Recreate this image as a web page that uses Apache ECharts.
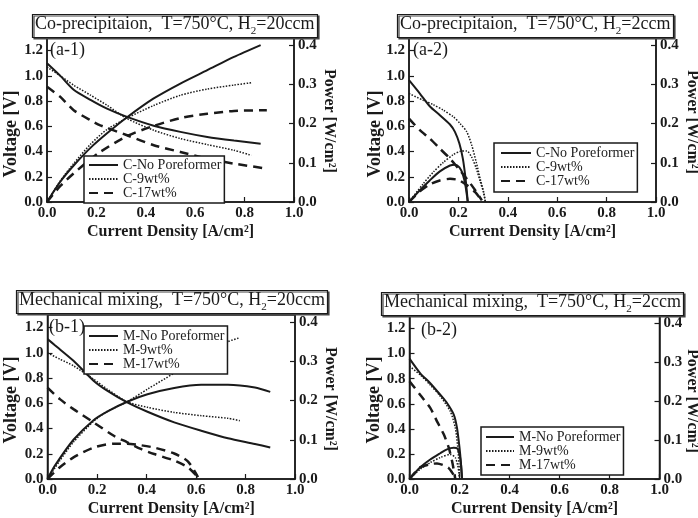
<!DOCTYPE html>
<html><head><meta charset="utf-8">
<script src="https://cdn.jsdelivr.net/npm/echarts/dist/echarts.min.js"></script>
<style>html,body{margin:0;padding:0;background:#fff}#c{width:698px;height:518px}</style>
</head><body><div id="c"></div>
<script>
// ---------- axis ranges / ticks ----------
const xRange = [0, 1.0], xStep = 0.2;
const voltRange = [0, 1.3], voltStep = 0.2;
const powerRange = [0, 0.418], powerStep = 0.1;

// ---------- panel titles ----------
const titleA1 = ['Co-precipitaion,  T=750°C, H', '2', '=20ccm'];
const titleA2 = ['Co-precipitaion,  T=750°C, H', '2', '=2ccm'];
const titleB1 = ['Mechanical mixing,  T=750°C, H', '2', '=20ccm'];
const titleB2 = ['Mechanical mixing,  T=750°C, H', '2', '=2ccm'];
const panelTags = ['(a-1)', '(a-2)', '(b-1)', '(b-2)'];
const namesC = ['C-No Poreformer', 'C-9wt%', 'C-17wt%'];
const namesM = ['M-No Poreformer', 'M-9wt%', 'M-17wt%'];

// ---------- (a-1) Co-precipitation, 20 ccm ----------
const a1_no_I = [0, 0.054, 0.108, 0.176, 0.243, 0.324, 0.432, 0.54, 0.649, 0.757, 0.865];
const a1_no_V = [1.10, 1.00, 0.89, 0.81, 0.74, 0.675, 0.605, 0.556, 0.516, 0.487, 0.462];
const a1_no_P = [0, 0.052, 0.093, 0.138, 0.175, 0.216, 0.264, 0.302, 0.336, 0.37, 0.40];
const a1_9_I = [0, 0.054, 0.108, 0.176, 0.243, 0.324, 0.432, 0.54, 0.649, 0.757, 0.827];
const a1_9_V = [1.07, 1.0, 0.926, 0.847, 0.767, 0.661, 0.569, 0.503, 0.455, 0.41, 0.37];
const a1_9_P = [0, 0.054, 0.098, 0.147, 0.185, 0.214, 0.246, 0.272, 0.288, 0.298, 0.304];
const a1_17_I = [0, 0.054, 0.108, 0.176, 0.216, 0.324, 0.432, 0.54, 0.649, 0.757, 0.89];
const a1_17_V = [0.913, 0.833, 0.728, 0.648, 0.608, 0.529, 0.45, 0.397, 0.344, 0.304, 0.265];
const a1_17_P = [0, 0.041, 0.073, 0.109, 0.128, 0.168, 0.194, 0.214, 0.225, 0.232, 0.234];

// ---------- (a-2) Co-precipitation, 2 ccm ----------
const a2_no_I = [0, 0.044, 0.084, 0.125, 0.166, 0.186, 0.204, 0.218, 0.229, 0.238];
const a2_no_V = [0.966, 0.86, 0.759, 0.688, 0.614, 0.556, 0.463, 0.344, 0.185, 0];
const a2_no_P = [0, 0.03, 0.055, 0.078, 0.093, 0.095, 0.088, 0.07, 0.04, 0];
const a2_9_I = [0, 0.057, 0.098, 0.139, 0.18, 0.207, 0.234, 0.254, 0.272, 0.288, 0.302, 0.309];
const a2_9_V = [0.86, 0.807, 0.772, 0.728, 0.675, 0.622, 0.556, 0.45, 0.317, 0.185, 0.08, 0];
const a2_9_P = [0, 0.046, 0.076, 0.101, 0.121, 0.129, 0.13, 0.114, 0.086, 0.053, 0.024, 0];
const a2_17_I = [0, 0.044, 0.084, 0.125, 0.166, 0.2, 0.234, 0.268, 0.295];
const a2_17_V = [0.661, 0.569, 0.503, 0.423, 0.344, 0.265, 0.185, 0.093, 0.013];
const a2_17_P = [0, 0.027, 0.045, 0.055, 0.059, 0.056, 0.043, 0.025, 0.003];

// ---------- (b-1) Mechanical mixing, 20 ccm ----------
const b1_no_I = [0, 0.03, 0.105, 0.186, 0.241, 0.322, 0.404, 0.512, 0.621, 0.729, 0.838, 0.90];
const b1_no_V = [1.11, 1.06, 0.937, 0.779, 0.70, 0.607, 0.533, 0.449, 0.383, 0.323, 0.278, 0.25];
const b1_no_P = [0, 0.034, 0.100, 0.150, 0.172, 0.197, 0.216, 0.232, 0.240, 0.240, 0.233, 0.222];
const b1_9_I = [0, 0.05, 0.105, 0.186, 0.241, 0.322, 0.404, 0.512, 0.621, 0.729, 0.777];
const b1_9_V = [1.0, 0.95, 0.897, 0.792, 0.713, 0.612, 0.568, 0.528, 0.502, 0.481, 0.462];
const b1_9_P = [0, 0.047, 0.094, 0.147, 0.172, 0.197, 0.229, 0.27, 0.312, 0.35, 0.36];
const b1_17_I = [0, 0.05, 0.105, 0.186, 0.268, 0.322, 0.377, 0.431, 0.512, 0.567, 0.608];
const b1_17_V = [0.725, 0.633, 0.554, 0.449, 0.343, 0.291, 0.238, 0.198, 0.146, 0.093, 0.014];
const b1_17_P = [0, 0.03, 0.055, 0.08, 0.09, 0.09, 0.086, 0.08, 0.065, 0.045, 0.005];

// ---------- (b-2) Mechanical mixing, 2 ccm ----------
const b2_no_I = [0, 0.043, 0.083, 0.123, 0.15, 0.177, 0.19, 0.2, 0.206, 0.21];
const b2_no_V = [0.96, 0.843, 0.764, 0.672, 0.606, 0.514, 0.408, 0.25, 0.119, 0];
const b2_no_P = [0, 0.03, 0.05, 0.066, 0.076, 0.08, 0.079, 0.063, 0.038, 0];
const b2_9_I = [0, 0.043, 0.083, 0.123, 0.163, 0.183, 0.193, 0.198, 0.2];
const b2_9_V = [0.9, 0.83, 0.75, 0.66, 0.54, 0.41, 0.25, 0.119, 0];
const b2_9_P = [0, 0.025, 0.042, 0.055, 0.063, 0.055, 0.034, 0.015, 0];
const b2_17_I = [0, 0.043, 0.083, 0.11, 0.137, 0.157, 0.17, 0.18, 0.183];
const b2_17_V = [0.78, 0.67, 0.567, 0.46, 0.356, 0.25, 0.145, 0.04, 0];
const b2_17_P = [0, 0.03, 0.038, 0.04, 0.035, 0.028, 0.017, 0.006, 0];

// ---------- styling / layout ----------
const FONT = 'Liberation Serif';
const INK = '#1a1a1a';
const lineStyles = {
  solid:  {color: INK, width: 2, type: 'solid'},
  dotted: {color: INK, width: 1.5, type: [1.5, 1.5]},
  dashed: {color: INK, width: 2.5, type: [9, 6]}
};
const styleOrder = ['solid', 'dotted', 'dashed'];

const panels = [
  {grid: {left: 47, top: 38, width: 247, height: 164}, title: titleA1, titlePos: [32, 13], tagPos: [50, 50],
   names: namesC, legend: {left: 84, top: 156, itemWidth: 29, padding: [2, 3, 3, 4]},
   voltPos: [11, 134], powerPos: [329, 121],
   sets: [[a1_no_I, a1_no_V, a1_no_P], [a1_9_I, a1_9_V, a1_9_P], [a1_17_I, a1_17_V, a1_17_P]]},
  {grid: {left: 409, top: 38, width: 247, height: 164}, title: titleA2, titlePos: [397, 13], tagPos: [413, 50],
   names: namesC, legend: {left: 494, top: 143, itemWidth: 30, padding: [3, 3, 4, 6]},
   voltPos: [375, 134], powerPos: [692, 122],
   sets: [[a2_no_I, a2_no_V, a2_no_P], [a2_9_I, a2_9_V, a2_9_P], [a2_17_I, a2_17_V, a2_17_P]]},
  {grid: {left: 47.5, top: 315, width: 247.5, height: 164}, title: titleB1, titlePos: [16, 289], tagPos: [49, 327],
   names: namesM, legend: {left: 84, top: 326, itemWidth: 29, padding: [3, 3, 3, 4]},
   voltPos: [11, 400], powerPos: [330, 399],
   sets: [[b1_no_I, b1_no_V, b1_no_P], [b1_9_I, b1_9_V, b1_9_P], [b1_17_I, b1_17_V, b1_17_P]]},
  {grid: {left: 409.5, top: 316, width: 250, height: 164}, title: titleB2, titlePos: [381, 291], tagPos: [421, 330],
   names: namesM, legend: {left: 481, top: 427, itemWidth: 28, padding: [3, 3, 3, 4]},
   voltPos: [374, 400], powerPos: [692, 401],
   sets: [[b2_no_I, b2_no_V, b2_no_P], [b2_9_I, b2_9_V, b2_9_P], [b2_17_I, b2_17_V, b2_17_P]]}
];

const fmt1 = v => v.toFixed(1);
const tickLabel = {margin: 4, fontFamily: FONT, fontWeight: 'bold', fontSize: 15, color: INK, formatter: fmt1};
const axLine = {show: true, onZero: false, lineStyle: {color: INK, width: 1.5}};
const axTick = {show: true, inside: true, length: 5, lineStyle: {color: INK, width: 1.2}};

const grids = [], xAxes = [], yAxes = [], series = [], legends = [], titles = [], graphics = [];

panels.forEach((p, g) => {
  grids.push(Object.assign({show: true, borderColor: INK, borderWidth: 1.5, backgroundColor: 'transparent'}, p.grid));
  xAxes.push({type: 'value', gridIndex: g, min: xRange[0], max: xRange[1], interval: xStep,
    axisLine: axLine, axisTick: axTick, axisLabel: tickLabel, splitLine: {show: false},
    name: 'Current Density [A/cm²]', nameLocation: 'middle', nameGap: 22,
    nameTextStyle: {fontFamily: FONT, fontWeight: 'bold', fontSize: 16, color: INK}});
  yAxes.push({type: 'value', gridIndex: g, position: 'left', min: voltRange[0], max: voltRange[1], interval: voltStep,
    axisLine: axLine, axisTick: axTick, axisLabel: Object.assign({showMaxLabel: false}, tickLabel), splitLine: {show: false}});
  yAxes.push({type: 'value', gridIndex: g, position: 'right', min: powerRange[0], max: powerRange[1], interval: powerStep,
    axisLine: axLine, axisTick: axTick, axisLabel: Object.assign({showMaxLabel: false}, tickLabel), splitLine: {show: false}});

  p.sets.forEach((s, k) => {
    const [I, V, P] = s;
    const ls = lineStyles[styleOrder[k]];
    const base = {type: 'line', name: p.names[k], xAxisIndex: g, symbol: 'none', smooth: 0.25,
      lineStyle: ls, itemStyle: {color: INK}, z: 2, silent: true, animation: false};
    series.push(Object.assign({}, base, {yAxisIndex: 2 * g, data: I.map((x, i) => [x, V[i]])}));
    series.push(Object.assign({}, base, {yAxisIndex: 2 * g + 1, data: I.map((x, i) => [x, P[i]])}));
  });

  legends.push(Object.assign({orient: 'vertical', data: p.names, itemHeight: 14, itemGap: 0,
    selectedMode: false, backgroundColor: '#fff', borderColor: INK, borderWidth: 1.5, borderRadius: 0,
    itemStyle: {opacity: 0},
    textStyle: {fontFamily: FONT, fontSize: 14, color: '#222', padding: [0, 0, 0, 0]}}, p.legend));

  titles.push({text: '{t|' + p.title[0] + '}{s|' + p.title[1] + '}{t|' + p.title[2] + '}',
    left: p.titlePos[0], top: p.titlePos[1], padding: [1, 3, 1, 3],
    borderColor: INK, borderWidth: 1.2, backgroundColor: '#fff',
    shadowColor: '#444', shadowOffsetX: 1.5, shadowOffsetY: 1.5, shadowBlur: 0,
    textStyle: {fontWeight: 'normal', rich: {
      t: {fontFamily: FONT, fontSize: 18, fontWeight: 'normal', color: INK, lineHeight: 20},
      s: {fontFamily: FONT, fontSize: 11, fontWeight: 'normal', color: INK, lineHeight: 20, verticalAlign: 'bottom', padding: [0, 0, -3, 0]}
    }}});

  graphics.push({type: 'text', x: p.tagPos[0], y: p.tagPos[1], z: 10,
    style: {text: panelTags[g], font: '18px "Liberation Serif"', fill: INK, textAlign: 'left', textVerticalAlign: 'middle'}});
  graphics.push({type: 'text', x: p.voltPos[0], y: p.voltPos[1], rotation: Math.PI / 2, z: 10,
    style: {text: 'Voltage [V]', font: 'bold 18px "Liberation Serif"', fill: INK, textAlign: 'center', textVerticalAlign: 'middle'}});
  graphics.push({type: 'text', x: p.powerPos[0], y: p.powerPos[1], rotation: -Math.PI / 2, z: 10,
    style: {text: 'Power [W/cm²]', font: 'bold 16px "Liberation Serif"', fill: INK, textAlign: 'center', textVerticalAlign: 'middle'}});
});

const chart = echarts.init(document.getElementById('c'), null, {renderer: 'canvas'});
chart.setOption({
  animation: false,
  backgroundColor: '#fff',
  title: titles,
  grid: grids,
  xAxis: xAxes,
  yAxis: yAxes,
  legend: legends,
  series: series,
  graphic: graphics
});
</script></body></html>
